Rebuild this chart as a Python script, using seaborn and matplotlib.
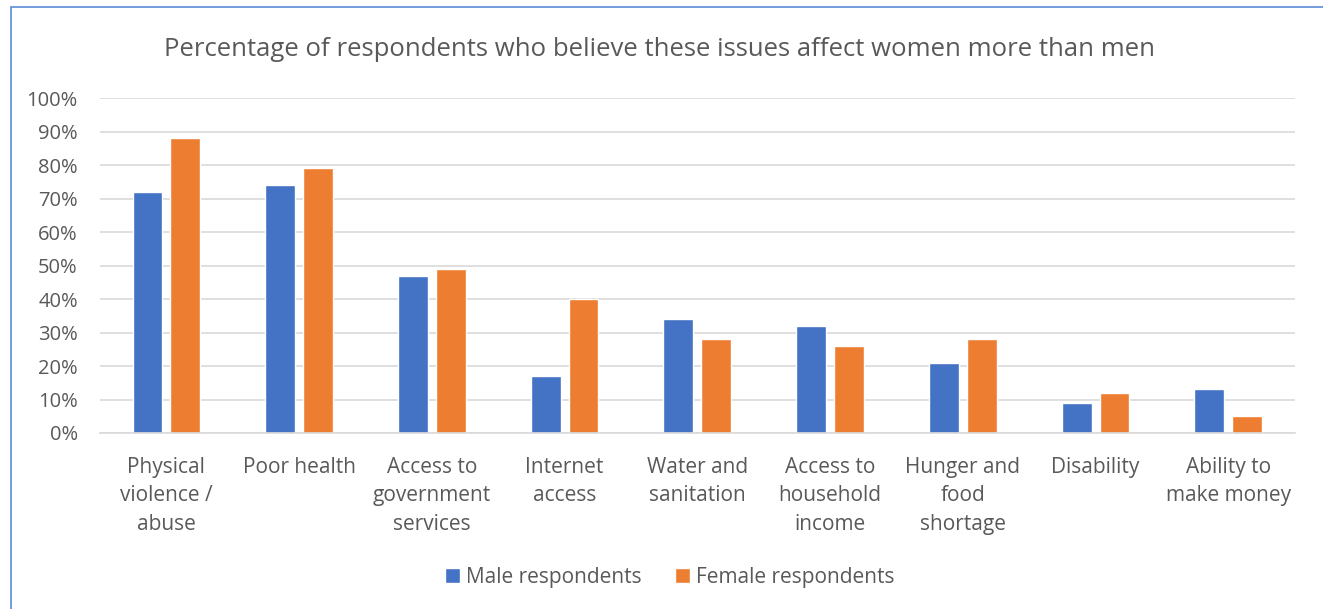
import matplotlib
matplotlib.use("Agg")
import matplotlib.pyplot as plt
import seaborn as sns
import pandas as pd
from matplotlib.patches import Rectangle
from matplotlib.ticker import FuncFormatter

categories = ["Physical\nviolence /\nabuse", "Poor health", "Access to\ngovernment\nservices",
              "Internet\naccess", "Water and\nsanitation", "Access to\nhousehold\nincome",
              "Hunger and\nfood\nshortage", "Disability", "Ability to\nmake money"]
male = [72, 74, 47, 17, 34, 32, 21, 9, 13]
female = [88, 79, 49, 40, 28, 26, 28, 12, 5]
series = ["Male respondents", "Female respondents"]

df = pd.DataFrame({
    "cat": categories * 2,
    "val": male + female,
    "series": [series[0]] * len(categories) + [series[1]] * len(categories),
})

sns.set_theme(style="white")
plt.rcParams["font.family"] = ["Open Sans", "DejaVu Sans"]
text_c = "#595959"

fig = plt.figure(figsize=(13.23, 6.09), dpi=100)
ax = fig.add_axes([0.0756, 0.289, 0.903, 0.55])
sns.barplot(data=df, x="cat", y="val", hue="series", order=categories,
            hue_order=series, palette=["#4472C4", "#ED7D31"],
            width=0.57, gap=0.21, ax=ax, saturation=1, legend=True)

ax.set_ylim(0, 100)
ax.set_yticks(range(0, 101, 10))
ax.yaxis.set_major_formatter(FuncFormatter(lambda v, p: f"{int(v)}%"))
ax.grid(axis="y", color="#D9D9D9", linewidth=1.2)
ax.set_axisbelow(True)
for s in ["top", "right", "left"]:
    ax.spines[s].set_visible(False)
ax.spines["bottom"].set_color("#D9D9D9")
ax.spines["bottom"].set_linewidth(1.2)
ax.tick_params(axis="y", length=0, labelsize=14.5, colors=text_c, pad=16)
ax.tick_params(axis="x", length=0, labelsize=15, colors=text_c, pad=17)
for lbl in ax.get_xticklabels():
    lbl.set_linespacing(1.48)
ax.set_xlabel("")
ax.set_ylabel("")
ax.set_xlim(-0.5, len(categories) - 0.5)

leg = ax.legend(loc="center", bbox_to_anchor=(0.477, -0.43), ncol=2, frameon=False,
                fontsize=15, handlelength=0.7, handleheight=0.7, columnspacing=1.6,
                handletextpad=0.3)
for t in leg.get_texts():
    t.set_color(text_c)

fig.text(0.4985, 0.918, "Percentage of respondents who believe these issues affect women more than men",
         ha="center", va="center", fontsize=18.5, color=text_c)

fig.patches.append(Rectangle((0.008, -0.01), 1.0, 0.998, transform=fig.transFigure,
                             fill=False, edgecolor="#5B8BD6", linewidth=1.2))

fig.savefig("out.png", dpi=100)
